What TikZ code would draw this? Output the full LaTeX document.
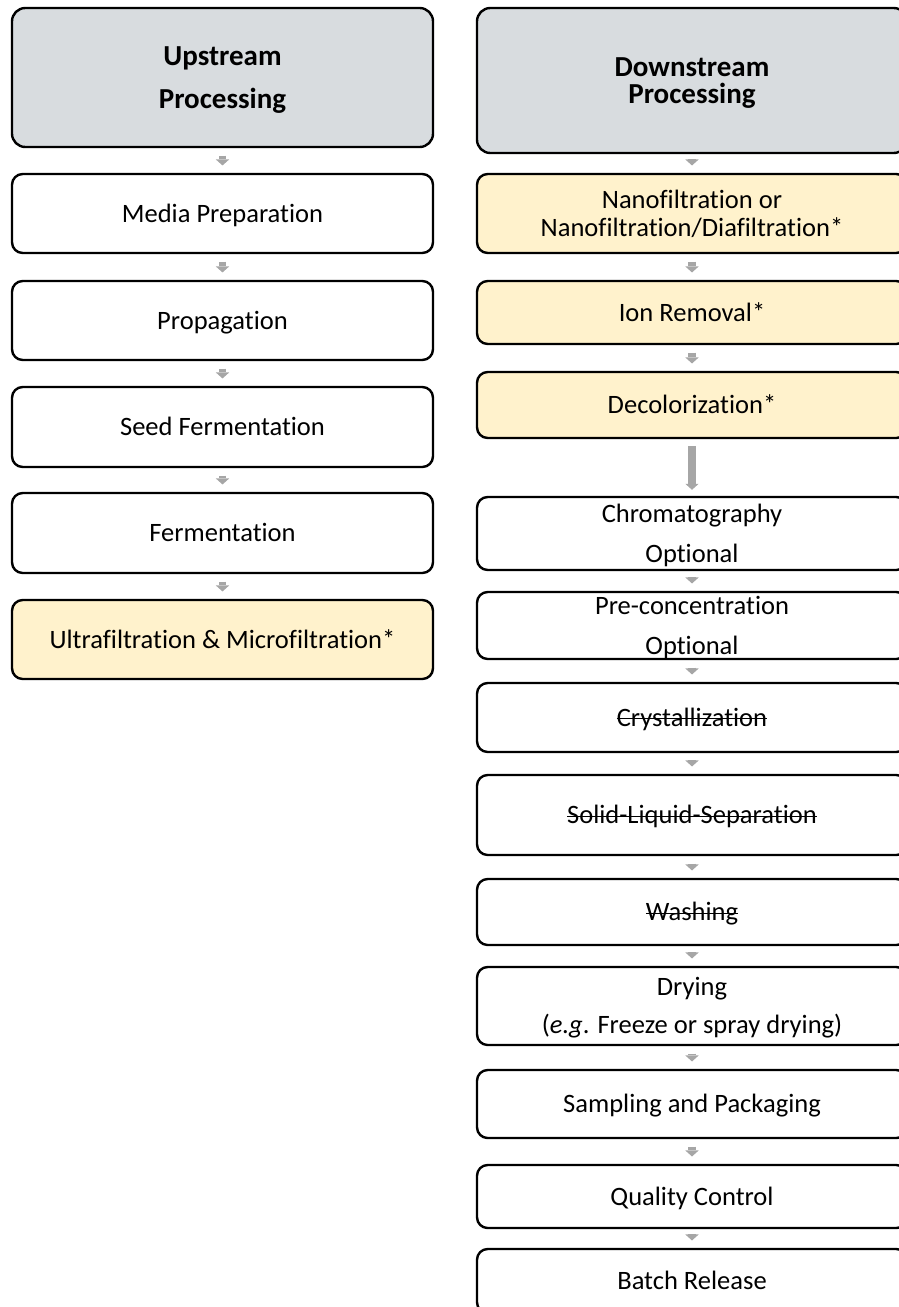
\documentclass[tikz,border=0pt]{standalone}
\usepackage{fontspec}
\setmainfont{Carlito}[Ligatures=NoCommon]
\usepackage{xcolor}
\usepackage{tikz}
\usetikzlibrary{arrows.meta}

\definecolor{headgray}{RGB}{216,220,223}
\definecolor{stepyellow}{RGB}{255,242,204}
\definecolor{arrowgray}{RGB}{166,166,166}

\newcommand{\stepfont}{\fontsize{19.9pt}{30pt}\selectfont}
\newcommand{\headfont}{\fontsize{21.75pt}{32.25pt}\selectfont\bfseries}
\newsavebox{\strikebox}
\newcommand{\struck}[1]{\sbox{\strikebox}{#1}\rlap{\rule[0.25em]{\wd\strikebox}{1pt}}\usebox{\strikebox}}

\tikzset{
  stage/.style={draw=black, line width=1.8pt, rounded corners=8pt, fill=white,
    align=center, text height=12.8pt, text depth=0pt, inner sep=0pt, font=\stepfont},
  leftstage/.style={stage, minimum width=315.75pt},
  rightstage/.style={stage, minimum width=322.5pt},
  headstage/.style={fill=headgray, rounded corners=10pt, font=\headfont, text height=14pt},
  starstage/.style={fill=stepyellow},
  flow/.style={arrowgray, line width=5.5pt, shorten <=5.5pt, shorten >=5.5pt,
    -{Triangle[width=10pt,length=4.5pt,line width=0pt]}},
  bigflow/.style={flow, line width=6pt, shorten <=5pt, shorten >=4.5pt}
}

\begin{document}
\begin{tikzpicture}[x=0.75pt,y=-0.75pt]
\useasboundingbox (0,0) rectangle (899,1307);
\clip (0,0) rectangle (899,1307);

% upstream column
\node[leftstage, headstage, minimum height=104.25pt, text height=46.25pt] (up) at (222.5,77.5) {Upstream\\Processing};
\node[leftstage, minimum height=59.25pt] (media) at (222.5,213.5) {Media Preparation};
\node[leftstage, minimum height=59.25pt] (prop) at (222.5,320.5) {Propagation};
\node[leftstage, minimum height=60pt] (seed) at (222.5,427) {Seed Fermentation};
\node[leftstage, minimum height=60pt] (ferm) at (222.5,533) {Fermentation};
\node[leftstage, starstage, minimum height=59.25pt] (ultra) at (222.5,639.5) {Ultrafiltration \& Microfiltration*};

% downstream column
\node[rightstage, headstage, minimum height=108.75pt, text height=34.5pt, font={\fontsize{21.75pt}{20.5pt}\selectfont\bfseries}] (down) at (692,80.5) {Downstream\\Processing};
\node[rightstage, starstage, minimum height=59.25pt, text height=33.8pt, font={\fontsize{19.9pt}{21pt}\selectfont}] (nano) at (692,213.5) {Nanofiltration or\\Nanofiltration/Diafiltration*};
\node[rightstage, starstage, minimum height=47.25pt] (ion) at (692,312.5) {Ion Removal*};
\node[rightstage, starstage, minimum height=49.5pt] (decol) at (692,405) {Decolorization*};
\node[rightstage, minimum height=54.75pt, text height=42.8pt] (chrom) at (692,533.5) {Chromatography\\Optional};
\node[rightstage, minimum height=50.25pt, text height=42.8pt] (precon) at (692,625.5) {Pre-concentration\\Optional};
\node[rightstage, minimum height=51.75pt] (cryst) at (692,717.5) {\struck{Crystallization}};
\node[rightstage, minimum height=60pt] (sls) at (692,815) {\struck{Solid-Liquid-Separation}};
\node[rightstage, minimum height=49.5pt] (wash) at (692,912) {\struck{Washing}};
\node[rightstage, minimum height=58.5pt, text height=41.3pt, font={\fontsize{19.9pt}{28.5pt}\selectfont}] (dry) at (692,1006) {Drying\\(\textit{e.g}. Freeze or spray drying)};
\node[rightstage, minimum height=51pt] (samp) at (692,1104) {Sampling and Packaging};
\node[rightstage, minimum height=47.25pt] (qc) at (692,1196.5) {Quality Control};
\node[rightstage, minimum height=48pt] (batch) at (692,1281) {Batch Release};

% arrows
\foreach \a/\b in {up/media, media/prop, prop/seed, seed/ferm, ferm/ultra,
  down/nano, nano/ion, ion/decol, chrom/precon, precon/cryst, cryst/sls,
  sls/wash, wash/dry, dry/samp, samp/qc, qc/batch}
  \draw[flow] (\a.south) -- (\b.north);
\draw[bigflow] (decol.south) -- (chrom.north);
\end{tikzpicture}
\end{document}
